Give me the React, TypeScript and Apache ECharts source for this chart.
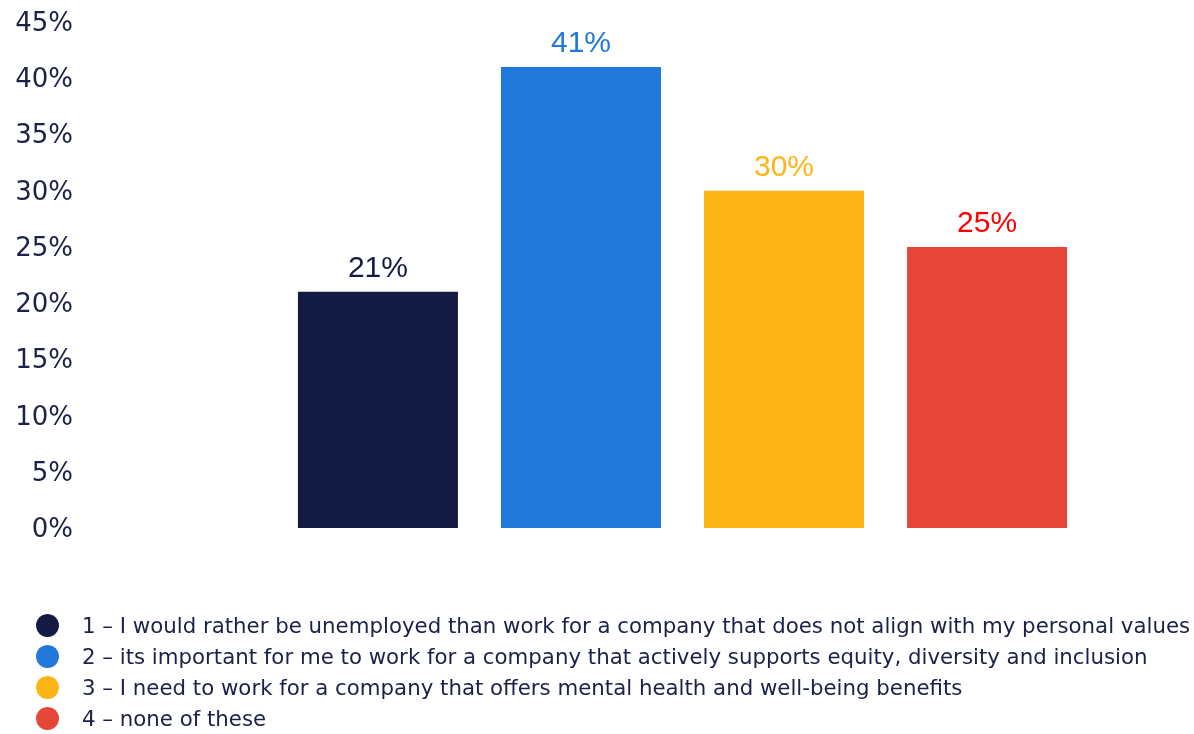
import React, { useEffect, useRef } from "react";
import * as echarts from "echarts";

const seriesNames = [
  "1 – I would rather be unemployed than work for a company that does not align with my personal values",
  "2 – its important for me to work for a company that actively supports equity, diversity and inclusion",
  "3 – I need to work for a company that offers mental health and well-being benefits",
  "4 – none of these",
];
const values = [21, 41, 30, 25];
const barColors = ["#131B45", "#2277DA", "#FDB515", "#E64637"];
const labelColors = ["#131B45", "#2277DA", "#FDB515", "#FF0000"];
const categories = [""];

export default function App() {
  const ref = useRef<HTMLDivElement>(null);
  useEffect(() => {
    const chart = echarts.init(ref.current!, null, { renderer: "svg" });
    chart.setOption({
      animation: false,
      grid: { left: 200, right: 29, top: 22, bottom: 206 },
      legend: {
        orient: "vertical",
        left: 36,
        top: 614,
        height: 130,
        icon: "circle",
        itemWidth: 23,
        itemHeight: 23,
        itemGap: 8,
        textStyle: {
          fontFamily: "DejaVu Sans",
          fontSize: 21.3,
          color: "#1B2147",
          padding: [0, 0, 0, 18],
        },
        padding: 0,
        data: seriesNames,
      },
      xAxis: {
        type: "category",
        data: categories,
        axisLine: { show: false },
        axisTick: { show: false },
        axisLabel: { show: false },
      },
      yAxis: {
        type: "value",
        min: 0,
        max: 45,
        interval: 5,
        splitLine: { show: false },
        axisLine: { show: false },
        axisTick: { show: false },
        axisLabel: {
          formatter: "{value}%",
          margin: 127,
          fontFamily: "DejaVu Sans",
          fontSize: 26,
          color: "#1B2147",
        },
      },
      series: seriesNames.map((name, i) => ({
        name,
        type: "bar",
        barWidth: 160,
        barGap: "26.9%",
        itemStyle: { color: barColors[i] },
        label: {
          show: true,
          position: "top",
          distance: 10,
          formatter: "{c}%",
          fontFamily: "Liberation Sans, Arial",
          fontSize: 30,
          color: labelColors[i],
        },
        data: [values[i]],
      })),
    });
    return () => chart.dispose();
  }, []);
  return (
    <div
      ref={ref}
      style={{ position: "fixed", left: 0, top: 0, width: 1194, height: 734 }}
    />
  );
}
